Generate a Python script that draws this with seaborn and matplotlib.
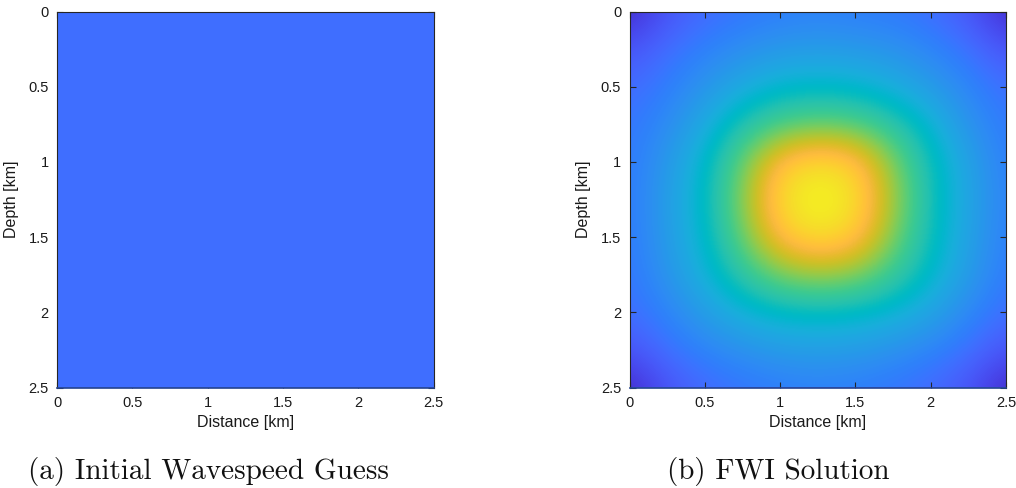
import numpy as np
import pandas as pd
import matplotlib
matplotlib.use("Agg")
import matplotlib.pyplot as plt
import seaborn as sns
from matplotlib.colors import LinearSegmentedColormap

# ---------------- data ----------------
model_size_km = 2.5
tick_values = [0, 0.5, 1, 1.5, 2, 2.5]
tick_labels = ["0", "0.5", "1", "1.5", "2", "2.5"]
grid_spacing_km = 0.25          # spacing of the read-off grid below

# wavespeed [km/s]; colour limits shared by both panels
v_min, v_max = 2.0, 3.0
initial_speed = 2.22            # constant initial guess

# FWI solution on a 0.25 km grid (rows: depth 0..2.5, cols: distance 0..2.5)
fwi_row_000 = [2.03, 2.15, 2.21, 2.24, 2.26, 2.27, 2.26, 2.25, 2.22, 2.16, 2.03]
fwi_row_025 = [2.15, 2.22, 2.27, 2.31, 2.34, 2.35, 2.34, 2.32, 2.28, 2.23, 2.15]
fwi_row_050 = [2.21, 2.26, 2.33, 2.40, 2.45, 2.46, 2.45, 2.41, 2.35, 2.28, 2.22]
fwi_row_075 = [2.24, 2.30, 2.40, 2.52, 2.60, 2.63, 2.61, 2.54, 2.44, 2.32, 2.25]
fwi_row_100 = [2.25, 2.34, 2.46, 2.64, 2.86, 2.93, 2.88, 2.66, 2.49, 2.37, 2.26]
fwi_row_125 = [2.25, 2.36, 2.47, 2.68, 2.93, 3.00, 2.94, 2.70, 2.50, 2.38, 2.27]
fwi_row_150 = [2.25, 2.35, 2.46, 2.64, 2.86, 2.94, 2.88, 2.66, 2.49, 2.37, 2.26]
fwi_row_175 = [2.24, 2.33, 2.43, 2.55, 2.66, 2.70, 2.67, 2.57, 2.46, 2.35, 2.25]
fwi_row_200 = [2.22, 2.28, 2.36, 2.43, 2.47, 2.48, 2.47, 2.44, 2.38, 2.29, 2.22]
fwi_row_225 = [2.15, 2.23, 2.28, 2.32, 2.35, 2.36, 2.35, 2.32, 2.28, 2.23, 2.15]
fwi_row_250 = [2.03, 2.15, 2.21, 2.24, 2.26, 2.27, 2.26, 2.24, 2.21, 2.15, 2.03]
fwi_rows = [fwi_row_000, fwi_row_025, fwi_row_050, fwi_row_075, fwi_row_100, fwi_row_125,
            fwi_row_150, fwi_row_175, fwi_row_200, fwi_row_225, fwi_row_250]

caption_a = "(a) Initial Wavespeed Guess"
caption_b = "(b) FWI Solution"
x_label = "Distance [km]"
y_label = "Depth [km]"

# ---------------- style ----------------
parula_colors = [
    [0.2422, 0.1504, 0.6603], [0.2504, 0.1650, 0.7076], [0.2578, 0.1818, 0.7511], [0.2647, 0.1978, 0.7952],
    [0.2706, 0.2147, 0.8364], [0.2751, 0.2342, 0.8710], [0.2783, 0.2559, 0.8991], [0.2803, 0.2782, 0.9221],
    [0.2813, 0.3006, 0.9414], [0.2810, 0.3228, 0.9579], [0.2795, 0.3447, 0.9717], [0.2760, 0.3667, 0.9829],
    [0.2699, 0.3892, 0.9906], [0.2602, 0.4123, 0.9952], [0.2440, 0.4358, 0.9988], [0.2206, 0.4603, 0.9973],
    [0.1963, 0.4847, 0.9892], [0.1834, 0.5074, 0.9798], [0.1786, 0.5289, 0.9682], [0.1764, 0.5499, 0.9520],
    [0.1687, 0.5703, 0.9359], [0.1540, 0.5902, 0.9218], [0.1460, 0.6091, 0.9079], [0.1380, 0.6276, 0.8973],
    [0.1248, 0.6459, 0.8883], [0.1113, 0.6635, 0.8763], [0.0952, 0.6798, 0.8598], [0.0689, 0.6948, 0.8394],
    [0.0297, 0.7082, 0.8163], [0.0036, 0.7203, 0.7917], [0.0067, 0.7312, 0.7660], [0.0433, 0.7411, 0.7394],
    [0.0964, 0.7500, 0.7120], [0.1408, 0.7584, 0.6842], [0.1717, 0.7670, 0.6554], [0.1938, 0.7758, 0.6251],
    [0.2161, 0.7843, 0.5923], [0.2470, 0.7918, 0.5567], [0.2906, 0.7973, 0.5188], [0.3406, 0.8008, 0.4789],
    [0.3909, 0.8029, 0.4354], [0.4456, 0.8024, 0.3909], [0.5044, 0.7993, 0.3480], [0.5616, 0.7942, 0.3045],
    [0.6174, 0.7876, 0.2612], [0.6720, 0.7793, 0.2227], [0.7242, 0.7698, 0.1910], [0.7738, 0.7598, 0.1646],
    [0.8203, 0.7498, 0.1535], [0.8634, 0.7406, 0.1596], [0.9035, 0.7330, 0.1774], [0.9393, 0.7288, 0.2100],
    [0.9728, 0.7298, 0.2394], [0.9956, 0.7434, 0.2371], [0.9970, 0.7659, 0.2199], [0.9952, 0.7893, 0.2028],
    [0.9892, 0.8136, 0.1885], [0.9786, 0.8386, 0.1766], [0.9676, 0.8639, 0.1643], [0.9610, 0.8890, 0.1537],
    [0.9597, 0.9135, 0.1423], [0.9628, 0.9373, 0.1265], [0.9691, 0.9606, 0.1064], [0.9769, 0.9839, 0.0805],
]
parula = LinearSegmentedColormap.from_list("parula", parula_colors, N=256)

sns.set_theme(style="ticks", rc={
    "xtick.direction": "in", "ytick.direction": "in",
    "xtick.top": True, "ytick.right": True,
    "xtick.major.size": 4, "ytick.major.size": 4,
    "xtick.major.width": 0.8, "ytick.major.width": 0.8,
    "axes.linewidth": 0.8, "axes.edgecolor": "#262626",
    "xtick.color": "#262626", "ytick.color": "#262626",
})
plt.rcParams["font.family"] = ["Liberation Sans", "DejaVu Sans"]

W, H = 1016, 488
fig = plt.figure(figsize=(W / 100, H / 100), dpi=100)
ax_l = fig.add_axes([57 / W, 1 - 387.5 / H, 376.5 / W, 376 / H])
ax_r = fig.add_axes([629.5 / W, 1 - 387.5 / H, 376.5 / W, 376 / H])

# left: constant initial guess drawn with seaborn
sns.heatmap(pd.DataFrame([[initial_speed]]), ax=ax_l, cmap=parula, vmin=v_min, vmax=v_max,
            cbar=False, xticklabels=False, yticklabels=False)
frac = np.array(tick_values) / model_size_km
ax_l.set_xlim(0, 1)
ax_l.set_ylim(1, 0)
ax_l.set_xticks(frac, tick_labels)
ax_l.set_yticks(frac, tick_labels)

# right: FWI solution, smooth rendering of the read-off grid
half = grid_spacing_km / 2
ax_r.set_facecolor(parula(0.2))
ax_r.imshow(np.array(fwi_rows), cmap=parula, vmin=v_min, vmax=v_max, interpolation="bicubic",
            extent=(-half, model_size_km + half, model_size_km + half, -half), aspect="auto")
ax_r.set_xlim(0, model_size_km)
ax_r.set_ylim(model_size_km, 0)
ax_r.set_xticks(tick_values, tick_labels)
ax_r.set_yticks(tick_values, tick_labels)

for ax in (ax_l, ax_r):
    for s in ax.spines.values():
        s.set_visible(True)
        s.set_color("#262626")
        s.set_linewidth(0.8)
    ax.spines["bottom"].set_color("#24438f")
    ax.spines["bottom"].set_linewidth(1.2)
    ax.tick_params(axis="both", which="major", labelsize=10.5, pad=6, colors="#262626",
                   labelcolor="#1a1a1a", direction="in", top=True, right=True,
                   bottom=True, left=True, labelrotation=0)
    ax.set_xlabel(x_label, fontsize=11.5, color="#1a1a1a", labelpad=4)
    ax.set_ylabel(y_label, fontsize=11.5, color="#1a1a1a", labelpad=7)
    ax.set_zorder(1)

fig.text(208 / W, 1 - 471 / H, caption_a, family=["cmr10", "DejaVu Serif"], fontsize=21,
         ha="center", va="center", color="#111111")
fig.text(778 / W, 1 - 471 / H, caption_b, family=["cmr10", "DejaVu Serif"], fontsize=21,
         ha="center", va="center", color="#111111")

fig.savefig("out.png", dpi=100, facecolor="white")
